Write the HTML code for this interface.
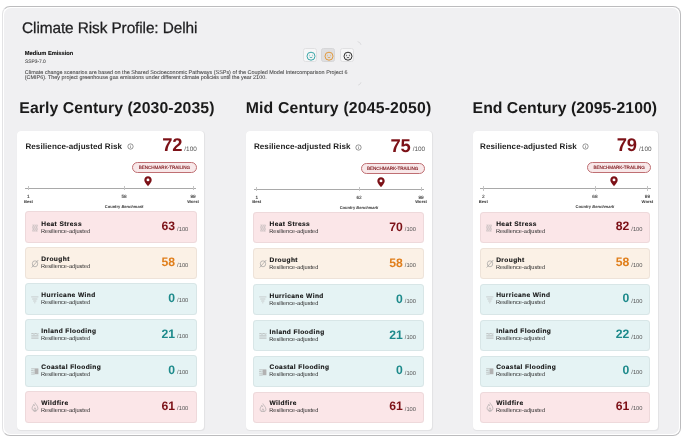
<!DOCTYPE html>
<html><head><meta charset="utf-8"><title>Climate Risk Profile: Delhi</title>
<style>
*{box-sizing:border-box;margin:0;padding:0}
html,body{width:688px;height:444px;overflow:hidden;background:#fff}
body{font-family:'Liberation Sans', Arial, Helvetica, sans-serif;color:#1d1d1f;position:relative;text-rendering:geometricPrecision}
.abs{position:absolute;white-space:nowrap}
.frame{position:absolute;left:2px;top:5.8px;width:679px;height:430.4px;border:1.2px solid #bcbcbe;border-left-color:#e3e3e5;border-radius:8px;background:#fff}
.inner{position:absolute;left:0.8px;top:0.8px;right:0.8px;bottom:0.8px;background:#f0f0f2;border-radius:7px}
.card{position:absolute;top:130.7px;height:299.3px;background:#fff;border-radius:4px;box-shadow:0.7px 0.8px 0.8px rgba(0,0,0,0.06)}
.row{position:absolute;left:8px;height:31.2px;border-radius:3.5px;border:0.7px solid}
.btn{position:absolute;top:48.2px;width:14px;height:14px;border-radius:2.5px;background:#f6f6f7;border:0.6px solid #e0e0e2}
</style></head><body>
<div class="frame"><div class="inner"></div></div>

<div class="abs" style="left:22.1px;top:20.0px;font-size:15.4px;line-height:18px;color:#1d1d1f;letter-spacing:-0.1px;-webkit-text-stroke:0.25px #1d1d1f">Climate Risk Profile: Delhi</div>
<div class="abs" style="left:24.7px;top:51.35px;font-size:5.72px;line-height:6px;font-weight:bold;color:#111;-webkit-text-stroke:0.12px #111">Medium Emission</div>
<div class="abs" style="left:24.9px;top:59.7px;font-size:4.9px;line-height:6px;color:#555;-webkit-text-stroke:0.1px #555">SSP3-7.0</div>
<div class="abs" style="left:24.8px;top:70.8px;font-size:5.44px;line-height:4.8px;color:#3d3d3d;-webkit-text-stroke:0.06px #3d3d3d">Climate change scenarios are based on the Shared Socioeconomic Pathways (SSPs) of the Coupled Model Intercomparison Project 6<br>(CMIP6). They project greenhouse gas emissions under different climate policies until the year 2100.</div>
<svg class="abs" style="left:355px;top:40px" width="8" height="47" viewBox="0 0 8 47"><path d="M2.6 1.6q2.6 0.4 3.4 3.2" stroke="#d6d6d8" stroke-width="0.8" fill="none"/><path d="M6 42.3q-0.6 2.4 -2.8 2.8" stroke="#d6d6d8" stroke-width="0.8" fill="none"/></svg>
<div class="btn" style="left:302.7px"><svg width="14" height="14" viewBox="0 0 14 14" style="position:absolute;left:0;top:0"><circle cx="7" cy="7.2" r="4" stroke="#3aa6a8" stroke-width="1" fill="none"/><path d="M4.9 6.7q0.6 -0.8 1.2 0M7.9 6.7q0.6 -0.8 1.2 0" stroke="#3aa6a8" stroke-width="0.6" fill="none"/><path d="M5.6 8.1q1.4 1.3 2.8 0" stroke="#3aa6a8" stroke-width="0.8" fill="none"/></svg></div>
<div class="btn" style="left:321.4px;background:#dfdfe1;border-color:#d6d6d8"><svg width="14" height="14" viewBox="0 0 14 14" style="position:absolute;left:0;top:0"><circle cx="7" cy="7.2" r="4" stroke="#e39a3c" stroke-width="1" fill="none"/><path d="M4.9 6.7q0.6 -0.8 1.2 0M7.9 6.7q0.6 -0.8 1.2 0" stroke="#e39a3c" stroke-width="0.6" fill="none"/><path d="M5.6 8.1q1.4 1.3 2.8 0" stroke="#e39a3c" stroke-width="0.8" fill="none"/></svg></div>
<div class="btn" style="left:340.4px"><svg width="14" height="14" viewBox="0 0 14 14" style="position:absolute;left:0;top:0"><circle cx="7" cy="7.2" r="4" stroke="#2e2e2e" stroke-width="1" fill="none"/><path d="M4.9 5.9l1.2 0.6l-1.2 0.5M9.1 5.9l-1.2 0.6l1.2 0.5" stroke="#2e2e2e" stroke-width="0.55" fill="none"/><path d="M5.7 9q1.3 -1.3 2.6 0" stroke="#2e2e2e" stroke-width="0.8" fill="none"/></svg></div>
<div class="abs head" style="left:19.3px;top:99.9px;font-size:15.8px;line-height:18px;font-weight:bold;color:#1a1a1a;width:200.6px;letter-spacing:0.08px">Early Century (2030-2035)</div>
<div class="card" style="left:17.3px;width:186.8px"><div class="abs" style="left:0.0px;top:0.0px;width:186.8px;height:299px">
<div class="abs" style="left:8.1px;top:10.9px;font-size:8.05px;line-height:9px;font-weight:bold;color:#1e1e1e;letter-spacing:0.08px">Resilience-adjusted Risk</div>
<svg class="abs" style="left:110.2px;top:12.4px" width="7" height="7" viewBox="0 0 7 7"><circle cx="3.5" cy="3.5" r="2.65" stroke="#6a6a6a" stroke-width="0.7" fill="none"/><path d="M3.5 3.1v1.9" stroke="#6a6a6a" stroke-width="0.6"/><circle cx="3.5" cy="2.2" r="0.35" fill="#6a6a6a"/></svg>
<div class="abs" style="right:21.90px;top:4.6px;font-size:18.4px;line-height:20px;font-weight:bold;color:#7c1117;letter-spacing:-0.2px">72</div>
<div class="abs" style="right:7.30px;top:15.0px;font-size:6.4px;line-height:7px;color:#555">/100</div>
<div class="abs" style="right:7.60px;top:31.5px;width:64.3px;height:10.8px;border-radius:6px;border:0.8px solid #bf6f73;background:#f8e8e9;color:#7c1117;font-size:4.6px;font-weight:normal;line-height:9.3px;text-align:center;letter-spacing:-0.04px;-webkit-text-stroke:0.12px #7c1117">BENCHMARK-TRAILING</div>
<div class="abs" style="left:7.8px;top:57.3px;width:171.3px;height:0.9px;background:#a9a9a9"></div>
<div class="abs" style="left:10.80px;top:55.6px;width:0.6px;height:4.2px;background:#c4c4c4"></div>
<div class="abs" style="left:106.54px;top:55.6px;width:0.6px;height:4.2px;background:#c4c4c4"></div>
<div class="abs" style="left:175.40px;top:55.6px;width:0.6px;height:4.2px;background:#c4c4c4"></div>
<svg class="abs" style="left:126.35px;top:45.6px" width="8" height="10.4" viewBox="0 0 8 10.4"><path d="M4 10.2C4 10.2 0.3 6.4 0.3 4C0.3 1.9 2 0.3 4 0.3C6 0.3 7.7 1.9 7.7 4C7.7 6.4 4 10.2 4 10.2Z" fill="#7c1117"/><circle cx="4" cy="3.9" r="1.45" fill="#fff"/></svg>
<div class="abs" style="left:11.10px;top:63.4px;width:20px;margin-left:-10px;text-align:center;font-size:4.7px;line-height:5px;color:#333;-webkit-text-stroke:0.1px #333">1</div>
<div class="abs" style="left:11.10px;top:68.1px;width:20px;margin-left:-10px;text-align:center;font-size:4.15px;line-height:5px;font-weight:bold;color:#333">Best</div>
<div class="abs" style="left:106.84px;top:63.4px;width:20px;margin-left:-10px;text-align:center;font-size:4.7px;line-height:5px;color:#333;-webkit-text-stroke:0.1px #333">58</div>
<div class="abs" style="left:175.70px;top:63.4px;width:20px;margin-left:-10px;text-align:center;font-size:4.7px;line-height:5px;color:#333;-webkit-text-stroke:0.1px #333">99</div>
<div class="abs" style="left:175.70px;top:68.1px;width:20px;margin-left:-10px;text-align:center;font-size:4.15px;line-height:5px;font-weight:bold;color:#333">Worst</div>
<div class="abs" style="left:106.84px;top:73.4px;width:60px;margin-left:-30px;text-align:center;font-size:4.05px;line-height:5px;font-weight:bold;color:#333">Country <i>Benchmark</i></div>
<div class="row" style="left:8.00px;top:80.8px;width:171.40px;background:#fbe6e8;border-color:rgba(60,40,40,0.065)">
<svg class="abs" style="left:5.30px;top:11.30px" width="6" height="8" viewBox="0 0 6 8"><path d="M1.1 0.6q0.4 0.9 0 1.8t0 1.8t0 1.8t0 1.6M3 0.6q0.4 0.9 0 1.8t0 1.8t0 1.8t0 1.6M4.9 0.6q0.4 0.9 0 1.8t0 1.8t0 1.8t0 1.6" stroke="#a2a2a2" stroke-width="0.7" fill="none"/></svg>
<div class="abs" style="left:15.0px;top:8.20px;font-size:6.6px;line-height:7px;font-weight:bold;color:#111;letter-spacing:0.4px;-webkit-text-stroke:0.12px #111">Heat Stress</div>
<div class="abs" style="left:14.7px;top:16.10px;font-size:5.65px;line-height:6px;color:#2b2b2b">Resilience-adjusted</div>
<div class="abs" style="right:20.70px;top:7.80px;font-size:12.2px;line-height:13px;font-weight:bold;color:#7c1117">63</div>
<div class="abs" style="right:7.40px;top:14.20px;font-size:5.75px;line-height:6px;color:#555">/100</div>
</div>
<div class="row" style="left:8.00px;top:116.8px;width:171.40px;background:#fbf1e6;border-color:rgba(60,50,40,0.065)">
<svg class="abs" style="left:4.40px;top:10.20px" width="8" height="9.2" viewBox="0 0 8 9.2"><ellipse cx="4" cy="4.8" rx="2.7" ry="3" stroke="#9a9a9a" stroke-width="0.65" fill="none"/><path d="M0.6 8.6L7.3 1" stroke="#9a9a9a" stroke-width="0.65"/></svg>
<div class="abs" style="left:15.0px;top:8.00px;font-size:6.6px;line-height:7px;font-weight:bold;color:#111;letter-spacing:0.4px;-webkit-text-stroke:0.12px #111">Drought</div>
<div class="abs" style="left:14.7px;top:15.90px;font-size:5.65px;line-height:6px;color:#2b2b2b">Resilience-adjusted</div>
<div class="abs" style="right:20.70px;top:7.70px;font-size:12.2px;line-height:13px;font-weight:bold;color:#e07f1c">58</div>
<div class="abs" style="right:7.40px;top:14.10px;font-size:5.75px;line-height:6px;color:#555">/100</div>
</div>
<div class="row" style="left:8.00px;top:152.8px;width:171.40px;background:#e5f3f4;border-color:rgba(40,60,60,0.065)">
<svg class="abs" style="left:4.80px;top:11.30px" width="8" height="8" viewBox="0 0 8 8"><path d="M0.2 0.9h7.2M1.2 3h5.2M2.2 5h3.2M3.3 6.8h1" stroke="#b4b4b4" stroke-width="0.6" fill="none"/></svg>
<div class="abs" style="left:15.0px;top:7.80px;font-size:6.6px;line-height:7px;font-weight:bold;color:#111;letter-spacing:0.4px;-webkit-text-stroke:0.12px #111">Hurricane Wind</div>
<div class="abs" style="left:14.7px;top:15.70px;font-size:5.65px;line-height:6px;color:#2b2b2b">Resilience-adjusted</div>
<div class="abs" style="right:20.70px;top:7.60px;font-size:12.2px;line-height:13px;font-weight:bold;color:#1d8a8b">0</div>
<div class="abs" style="right:7.40px;top:14.00px;font-size:5.75px;line-height:6px;color:#555">/100</div>
</div>
<div class="row" style="left:8.00px;top:188.8px;width:171.40px;background:#e5f3f4;border-color:rgba(40,60,60,0.065)">
<svg class="abs" style="left:4.80px;top:12.30px" width="8" height="6" viewBox="0 0 8 6"><path d="M0.3 0.8q0.9 -0.6 1.8 0t1.8 0t1.8 0t1.8 0M0.3 2.9h7.2M0.3 5.1h7.2" stroke="#a8a8a8" stroke-width="0.75" fill="none"/></svg>
<div class="abs" style="left:15.0px;top:7.60px;font-size:6.6px;line-height:7px;font-weight:bold;color:#111;letter-spacing:0.4px;-webkit-text-stroke:0.12px #111">Inland Flooding</div>
<div class="abs" style="left:14.7px;top:15.50px;font-size:5.65px;line-height:6px;color:#2b2b2b">Resilience-adjusted</div>
<div class="abs" style="right:20.70px;top:7.50px;font-size:12.2px;line-height:13px;font-weight:bold;color:#1d8a8b">21</div>
<div class="abs" style="right:7.40px;top:13.90px;font-size:5.75px;line-height:6px;color:#555">/100</div>
</div>
<div class="row" style="left:8.00px;top:224.8px;width:171.40px;background:#e5f3f4;border-color:rgba(40,60,60,0.065)">
<svg class="abs" style="left:4.80px;top:11.50px" width="8" height="7" viewBox="0 0 8 7"><rect x="3.6" y="0.4" width="3.8" height="5.8" fill="#b2b2b2"/><path d="M0.2 0.8h3.4M0.2 2.6q0.8 -0.6 1.6 0t1.6 0M0.2 4.4q0.8 -0.6 1.6 0t1.6 0M0.2 6.1h3.4" stroke="#a2a2a2" stroke-width="0.6" fill="none"/></svg>
<div class="abs" style="left:15.0px;top:7.40px;font-size:6.6px;line-height:7px;font-weight:bold;color:#111;letter-spacing:0.4px;-webkit-text-stroke:0.12px #111">Coastal Flooding</div>
<div class="abs" style="left:14.7px;top:15.30px;font-size:5.65px;line-height:6px;color:#2b2b2b">Resilience-adjusted</div>
<div class="abs" style="right:20.70px;top:7.40px;font-size:12.2px;line-height:13px;font-weight:bold;color:#1d8a8b">0</div>
<div class="abs" style="right:7.40px;top:13.80px;font-size:5.75px;line-height:6px;color:#555">/100</div>
</div>
<div class="row" style="left:8.00px;top:260.8px;width:171.40px;background:#fbe6e8;border-color:rgba(60,40,40,0.065)">
<svg class="abs" style="left:4.80px;top:9.60px" width="8" height="9.6" viewBox="0 0 8 9.6"><path d="M3.8 0.5C4.3 2.3 6.9 3.7 6.9 6.3C6.9 8 5.6 9.2 4 9.2C2.4 9.2 1.1 8 1.1 6.3C1.1 4.6 2.4 3.6 2.8 2.3C3.3 3.1 3.5 3.7 3.9 4.1" stroke="#a0a0a0" stroke-width="0.6" fill="none"/><path d="M4 9.1C3.1 9.1 2.7 8.3 2.9 7.5C3.1 6.8 3.7 6.4 3.9 5.7C4.5 6.5 5 7.1 5 7.9C5 8.6 4.6 9.1 4 9.1Z" stroke="#a0a0a0" stroke-width="0.6" fill="none"/></svg>
<div class="abs" style="left:15.0px;top:7.20px;font-size:6.6px;line-height:7px;font-weight:bold;color:#111;letter-spacing:0.4px;-webkit-text-stroke:0.12px #111">Wildfire</div>
<div class="abs" style="left:14.7px;top:15.10px;font-size:5.65px;line-height:6px;color:#2b2b2b">Resilience-adjusted</div>
<div class="abs" style="right:20.70px;top:7.30px;font-size:12.2px;line-height:13px;font-weight:bold;color:#7c1117">61</div>
<div class="abs" style="right:7.40px;top:13.70px;font-size:5.75px;line-height:6px;color:#555">/100</div>
</div>
</div></div>
<div class="abs head" style="left:245.7px;top:99.9px;font-size:15.8px;line-height:18px;font-weight:bold;color:#1a1a1a;width:191.3px;letter-spacing:0.17px">Mid Century (2045-2050)</div>
<div class="card" style="left:245.8px;width:186.0px"><div class="abs" style="left:0.0px;top:0.6px;width:186.0px;height:299px">
<div class="abs" style="left:8.1px;top:10.9px;font-size:8.05px;line-height:9px;font-weight:bold;color:#1e1e1e;letter-spacing:0.08px">Resilience-adjusted Risk</div>
<svg class="abs" style="left:109.6px;top:12.4px" width="7" height="7" viewBox="0 0 7 7"><circle cx="3.5" cy="3.5" r="2.65" stroke="#6a6a6a" stroke-width="0.7" fill="none"/><path d="M3.5 3.1v1.9" stroke="#6a6a6a" stroke-width="0.6"/><circle cx="3.5" cy="2.2" r="0.35" fill="#6a6a6a"/></svg>
<div class="abs" style="right:21.30px;top:4.6px;font-size:18.4px;line-height:20px;font-weight:bold;color:#7c1117;letter-spacing:-0.2px">75</div>
<div class="abs" style="right:6.70px;top:15.0px;font-size:6.4px;line-height:7px;color:#555">/100</div>
<div class="abs" style="right:7.00px;top:31.5px;width:64.3px;height:10.8px;border-radius:6px;border:0.8px solid #bf6f73;background:#f8e8e9;color:#7c1117;font-size:4.6px;font-weight:normal;line-height:9.3px;text-align:center;letter-spacing:-0.04px;-webkit-text-stroke:0.12px #7c1117">BENCHMARK-TRAILING</div>
<div class="abs" style="left:7.8px;top:57.3px;width:170.9px;height:0.9px;background:#a9a9a9"></div>
<div class="abs" style="left:10.60px;top:55.6px;width:0.6px;height:4.2px;background:#c4c4c4"></div>
<div class="abs" style="left:112.93px;top:55.6px;width:0.6px;height:4.2px;background:#c4c4c4"></div>
<div class="abs" style="left:175.00px;top:55.6px;width:0.6px;height:4.2px;background:#c4c4c4"></div>
<svg class="abs" style="left:131.04px;top:45.6px" width="8" height="10.4" viewBox="0 0 8 10.4"><path d="M4 10.2C4 10.2 0.3 6.4 0.3 4C0.3 1.9 2 0.3 4 0.3C6 0.3 7.7 1.9 7.7 4C7.7 6.4 4 10.2 4 10.2Z" fill="#7c1117"/><circle cx="4" cy="3.9" r="1.45" fill="#fff"/></svg>
<div class="abs" style="left:10.90px;top:63.4px;width:20px;margin-left:-10px;text-align:center;font-size:4.7px;line-height:5px;color:#333;-webkit-text-stroke:0.1px #333">1</div>
<div class="abs" style="left:10.90px;top:68.1px;width:20px;margin-left:-10px;text-align:center;font-size:4.15px;line-height:5px;font-weight:bold;color:#333">Best</div>
<div class="abs" style="left:113.23px;top:63.4px;width:20px;margin-left:-10px;text-align:center;font-size:4.7px;line-height:5px;color:#333;-webkit-text-stroke:0.1px #333">62</div>
<div class="abs" style="left:175.30px;top:63.4px;width:20px;margin-left:-10px;text-align:center;font-size:4.7px;line-height:5px;color:#333;-webkit-text-stroke:0.1px #333">99</div>
<div class="abs" style="left:175.30px;top:68.1px;width:20px;margin-left:-10px;text-align:center;font-size:4.15px;line-height:5px;font-weight:bold;color:#333">Worst</div>
<div class="abs" style="left:113.23px;top:73.4px;width:60px;margin-left:-30px;text-align:center;font-size:4.05px;line-height:5px;font-weight:bold;color:#333">Country <i>Benchmark</i></div>
<div class="row" style="left:7.70px;top:80.8px;width:170.90px;background:#fbe6e8;border-color:rgba(60,40,40,0.065)">
<svg class="abs" style="left:5.30px;top:11.30px" width="6" height="8" viewBox="0 0 6 8"><path d="M1.1 0.6q0.4 0.9 0 1.8t0 1.8t0 1.8t0 1.6M3 0.6q0.4 0.9 0 1.8t0 1.8t0 1.8t0 1.6M4.9 0.6q0.4 0.9 0 1.8t0 1.8t0 1.8t0 1.6" stroke="#a2a2a2" stroke-width="0.7" fill="none"/></svg>
<div class="abs" style="left:15.0px;top:8.20px;font-size:6.6px;line-height:7px;font-weight:bold;color:#111;letter-spacing:0.4px;-webkit-text-stroke:0.12px #111">Heat Stress</div>
<div class="abs" style="left:14.7px;top:16.10px;font-size:5.65px;line-height:6px;color:#2b2b2b">Resilience-adjusted</div>
<div class="abs" style="right:20.70px;top:7.80px;font-size:12.2px;line-height:13px;font-weight:bold;color:#7c1117">70</div>
<div class="abs" style="right:7.40px;top:14.20px;font-size:5.75px;line-height:6px;color:#555">/100</div>
</div>
<div class="row" style="left:7.70px;top:116.8px;width:170.90px;background:#fbf1e6;border-color:rgba(60,50,40,0.065)">
<svg class="abs" style="left:4.40px;top:10.20px" width="8" height="9.2" viewBox="0 0 8 9.2"><ellipse cx="4" cy="4.8" rx="2.7" ry="3" stroke="#9a9a9a" stroke-width="0.65" fill="none"/><path d="M0.6 8.6L7.3 1" stroke="#9a9a9a" stroke-width="0.65"/></svg>
<div class="abs" style="left:15.0px;top:8.00px;font-size:6.6px;line-height:7px;font-weight:bold;color:#111;letter-spacing:0.4px;-webkit-text-stroke:0.12px #111">Drought</div>
<div class="abs" style="left:14.7px;top:15.90px;font-size:5.65px;line-height:6px;color:#2b2b2b">Resilience-adjusted</div>
<div class="abs" style="right:20.70px;top:7.70px;font-size:12.2px;line-height:13px;font-weight:bold;color:#e07f1c">58</div>
<div class="abs" style="right:7.40px;top:14.10px;font-size:5.75px;line-height:6px;color:#555">/100</div>
</div>
<div class="row" style="left:7.70px;top:152.8px;width:170.90px;background:#e5f3f4;border-color:rgba(40,60,60,0.065)">
<svg class="abs" style="left:4.80px;top:11.30px" width="8" height="8" viewBox="0 0 8 8"><path d="M0.2 0.9h7.2M1.2 3h5.2M2.2 5h3.2M3.3 6.8h1" stroke="#b4b4b4" stroke-width="0.6" fill="none"/></svg>
<div class="abs" style="left:15.0px;top:7.80px;font-size:6.6px;line-height:7px;font-weight:bold;color:#111;letter-spacing:0.4px;-webkit-text-stroke:0.12px #111">Hurricane Wind</div>
<div class="abs" style="left:14.7px;top:15.70px;font-size:5.65px;line-height:6px;color:#2b2b2b">Resilience-adjusted</div>
<div class="abs" style="right:20.70px;top:7.60px;font-size:12.2px;line-height:13px;font-weight:bold;color:#1d8a8b">0</div>
<div class="abs" style="right:7.40px;top:14.00px;font-size:5.75px;line-height:6px;color:#555">/100</div>
</div>
<div class="row" style="left:7.70px;top:188.8px;width:170.90px;background:#e5f3f4;border-color:rgba(40,60,60,0.065)">
<svg class="abs" style="left:4.80px;top:12.30px" width="8" height="6" viewBox="0 0 8 6"><path d="M0.3 0.8q0.9 -0.6 1.8 0t1.8 0t1.8 0t1.8 0M0.3 2.9h7.2M0.3 5.1h7.2" stroke="#a8a8a8" stroke-width="0.75" fill="none"/></svg>
<div class="abs" style="left:15.0px;top:7.60px;font-size:6.6px;line-height:7px;font-weight:bold;color:#111;letter-spacing:0.4px;-webkit-text-stroke:0.12px #111">Inland Flooding</div>
<div class="abs" style="left:14.7px;top:15.50px;font-size:5.65px;line-height:6px;color:#2b2b2b">Resilience-adjusted</div>
<div class="abs" style="right:20.70px;top:7.50px;font-size:12.2px;line-height:13px;font-weight:bold;color:#1d8a8b">21</div>
<div class="abs" style="right:7.40px;top:13.90px;font-size:5.75px;line-height:6px;color:#555">/100</div>
</div>
<div class="row" style="left:7.70px;top:224.8px;width:170.90px;background:#e5f3f4;border-color:rgba(40,60,60,0.065)">
<svg class="abs" style="left:4.80px;top:11.50px" width="8" height="7" viewBox="0 0 8 7"><rect x="3.6" y="0.4" width="3.8" height="5.8" fill="#b2b2b2"/><path d="M0.2 0.8h3.4M0.2 2.6q0.8 -0.6 1.6 0t1.6 0M0.2 4.4q0.8 -0.6 1.6 0t1.6 0M0.2 6.1h3.4" stroke="#a2a2a2" stroke-width="0.6" fill="none"/></svg>
<div class="abs" style="left:15.0px;top:7.40px;font-size:6.6px;line-height:7px;font-weight:bold;color:#111;letter-spacing:0.4px;-webkit-text-stroke:0.12px #111">Coastal Flooding</div>
<div class="abs" style="left:14.7px;top:15.30px;font-size:5.65px;line-height:6px;color:#2b2b2b">Resilience-adjusted</div>
<div class="abs" style="right:20.70px;top:7.40px;font-size:12.2px;line-height:13px;font-weight:bold;color:#1d8a8b">0</div>
<div class="abs" style="right:7.40px;top:13.80px;font-size:5.75px;line-height:6px;color:#555">/100</div>
</div>
<div class="row" style="left:7.70px;top:260.8px;width:170.90px;background:#fbe6e8;border-color:rgba(60,40,40,0.065)">
<svg class="abs" style="left:4.80px;top:9.60px" width="8" height="9.6" viewBox="0 0 8 9.6"><path d="M3.8 0.5C4.3 2.3 6.9 3.7 6.9 6.3C6.9 8 5.6 9.2 4 9.2C2.4 9.2 1.1 8 1.1 6.3C1.1 4.6 2.4 3.6 2.8 2.3C3.3 3.1 3.5 3.7 3.9 4.1" stroke="#a0a0a0" stroke-width="0.6" fill="none"/><path d="M4 9.1C3.1 9.1 2.7 8.3 2.9 7.5C3.1 6.8 3.7 6.4 3.9 5.7C4.5 6.5 5 7.1 5 7.9C5 8.6 4.6 9.1 4 9.1Z" stroke="#a0a0a0" stroke-width="0.6" fill="none"/></svg>
<div class="abs" style="left:15.0px;top:7.20px;font-size:6.6px;line-height:7px;font-weight:bold;color:#111;letter-spacing:0.4px;-webkit-text-stroke:0.12px #111">Wildfire</div>
<div class="abs" style="left:14.7px;top:15.10px;font-size:5.65px;line-height:6px;color:#2b2b2b">Resilience-adjusted</div>
<div class="abs" style="right:20.70px;top:7.30px;font-size:12.2px;line-height:13px;font-weight:bold;color:#7c1117">61</div>
<div class="abs" style="right:7.40px;top:13.70px;font-size:5.75px;line-height:6px;color:#555">/100</div>
</div>
</div></div>
<div class="abs head" style="left:472.6px;top:99.9px;font-size:15.8px;line-height:18px;font-weight:bold;color:#1a1a1a;width:189.6px;letter-spacing:0.00px">End Century (2095-2100)</div>
<div class="card" style="left:472.5px;width:185.8px"><div class="abs" style="left:-0.5px;top:0.2px;width:185.8px;height:299px">
<div class="abs" style="left:8.1px;top:10.9px;font-size:8.05px;line-height:9px;font-weight:bold;color:#1e1e1e;letter-spacing:0.08px">Resilience-adjusted Risk</div>
<svg class="abs" style="left:110.2px;top:12.4px" width="7" height="7" viewBox="0 0 7 7"><circle cx="3.5" cy="3.5" r="2.65" stroke="#6a6a6a" stroke-width="0.7" fill="none"/><path d="M3.5 3.1v1.9" stroke="#6a6a6a" stroke-width="0.6"/><circle cx="3.5" cy="2.2" r="0.35" fill="#6a6a6a"/></svg>
<div class="abs" style="right:20.90px;top:4.6px;font-size:18.4px;line-height:20px;font-weight:bold;color:#7c1117;letter-spacing:-0.2px">79</div>
<div class="abs" style="right:6.30px;top:15.0px;font-size:6.4px;line-height:7px;color:#555">/100</div>
<div class="abs" style="right:6.60px;top:31.5px;width:64.3px;height:10.8px;border-radius:6px;border:0.8px solid #bf6f73;background:#f8e8e9;color:#7c1117;font-size:4.6px;font-weight:normal;line-height:9.3px;text-align:center;letter-spacing:-0.04px;-webkit-text-stroke:0.12px #7c1117">BENCHMARK-TRAILING</div>
<div class="abs" style="left:7.8px;top:57.3px;width:171.0px;height:0.9px;background:#a9a9a9"></div>
<div class="abs" style="left:11.00px;top:55.6px;width:0.6px;height:4.2px;background:#c4c4c4"></div>
<div class="abs" style="left:122.66px;top:55.6px;width:0.6px;height:4.2px;background:#c4c4c4"></div>
<div class="abs" style="left:175.10px;top:55.6px;width:0.6px;height:4.2px;background:#c4c4c4"></div>
<svg class="abs" style="left:137.56px;top:45.6px" width="8" height="10.4" viewBox="0 0 8 10.4"><path d="M4 10.2C4 10.2 0.3 6.4 0.3 4C0.3 1.9 2 0.3 4 0.3C6 0.3 7.7 1.9 7.7 4C7.7 6.4 4 10.2 4 10.2Z" fill="#7c1117"/><circle cx="4" cy="3.9" r="1.45" fill="#fff"/></svg>
<div class="abs" style="left:11.30px;top:63.4px;width:20px;margin-left:-10px;text-align:center;font-size:4.7px;line-height:5px;color:#333;-webkit-text-stroke:0.1px #333">2</div>
<div class="abs" style="left:11.30px;top:68.1px;width:20px;margin-left:-10px;text-align:center;font-size:4.15px;line-height:5px;font-weight:bold;color:#333">Best</div>
<div class="abs" style="left:122.96px;top:63.4px;width:20px;margin-left:-10px;text-align:center;font-size:4.7px;line-height:5px;color:#333;-webkit-text-stroke:0.1px #333">68</div>
<div class="abs" style="left:175.40px;top:63.4px;width:20px;margin-left:-10px;text-align:center;font-size:4.7px;line-height:5px;color:#333;-webkit-text-stroke:0.1px #333">99</div>
<div class="abs" style="left:175.40px;top:68.1px;width:20px;margin-left:-10px;text-align:center;font-size:4.15px;line-height:5px;font-weight:bold;color:#333">Worst</div>
<div class="abs" style="left:122.96px;top:73.4px;width:60px;margin-left:-30px;text-align:center;font-size:4.05px;line-height:5px;font-weight:bold;color:#333">Country <i>Benchmark</i></div>
<div class="row" style="left:8.20px;top:80.8px;width:170.10px;background:#fbe6e8;border-color:rgba(60,40,40,0.065)">
<svg class="abs" style="left:5.30px;top:11.30px" width="6" height="8" viewBox="0 0 6 8"><path d="M1.1 0.6q0.4 0.9 0 1.8t0 1.8t0 1.8t0 1.6M3 0.6q0.4 0.9 0 1.8t0 1.8t0 1.8t0 1.6M4.9 0.6q0.4 0.9 0 1.8t0 1.8t0 1.8t0 1.6" stroke="#a2a2a2" stroke-width="0.7" fill="none"/></svg>
<div class="abs" style="left:15.0px;top:8.20px;font-size:6.6px;line-height:7px;font-weight:bold;color:#111;letter-spacing:0.4px;-webkit-text-stroke:0.12px #111">Heat Stress</div>
<div class="abs" style="left:14.7px;top:16.10px;font-size:5.65px;line-height:6px;color:#2b2b2b">Resilience-adjusted</div>
<div class="abs" style="right:20.10px;top:7.80px;font-size:12.2px;line-height:13px;font-weight:bold;color:#7c1117">82</div>
<div class="abs" style="right:6.80px;top:14.20px;font-size:5.75px;line-height:6px;color:#555">/100</div>
</div>
<div class="row" style="left:8.20px;top:116.8px;width:170.10px;background:#fbf1e6;border-color:rgba(60,50,40,0.065)">
<svg class="abs" style="left:4.40px;top:10.20px" width="8" height="9.2" viewBox="0 0 8 9.2"><ellipse cx="4" cy="4.8" rx="2.7" ry="3" stroke="#9a9a9a" stroke-width="0.65" fill="none"/><path d="M0.6 8.6L7.3 1" stroke="#9a9a9a" stroke-width="0.65"/></svg>
<div class="abs" style="left:15.0px;top:8.00px;font-size:6.6px;line-height:7px;font-weight:bold;color:#111;letter-spacing:0.4px;-webkit-text-stroke:0.12px #111">Drought</div>
<div class="abs" style="left:14.7px;top:15.90px;font-size:5.65px;line-height:6px;color:#2b2b2b">Resilience-adjusted</div>
<div class="abs" style="right:20.10px;top:7.70px;font-size:12.2px;line-height:13px;font-weight:bold;color:#e07f1c">58</div>
<div class="abs" style="right:6.80px;top:14.10px;font-size:5.75px;line-height:6px;color:#555">/100</div>
</div>
<div class="row" style="left:8.20px;top:152.8px;width:170.10px;background:#e5f3f4;border-color:rgba(40,60,60,0.065)">
<svg class="abs" style="left:4.80px;top:11.30px" width="8" height="8" viewBox="0 0 8 8"><path d="M0.2 0.9h7.2M1.2 3h5.2M2.2 5h3.2M3.3 6.8h1" stroke="#b4b4b4" stroke-width="0.6" fill="none"/></svg>
<div class="abs" style="left:15.0px;top:7.80px;font-size:6.6px;line-height:7px;font-weight:bold;color:#111;letter-spacing:0.4px;-webkit-text-stroke:0.12px #111">Hurricane Wind</div>
<div class="abs" style="left:14.7px;top:15.70px;font-size:5.65px;line-height:6px;color:#2b2b2b">Resilience-adjusted</div>
<div class="abs" style="right:20.10px;top:7.60px;font-size:12.2px;line-height:13px;font-weight:bold;color:#1d8a8b">0</div>
<div class="abs" style="right:6.80px;top:14.00px;font-size:5.75px;line-height:6px;color:#555">/100</div>
</div>
<div class="row" style="left:8.20px;top:188.8px;width:170.10px;background:#e5f3f4;border-color:rgba(40,60,60,0.065)">
<svg class="abs" style="left:4.80px;top:12.30px" width="8" height="6" viewBox="0 0 8 6"><path d="M0.3 0.8q0.9 -0.6 1.8 0t1.8 0t1.8 0t1.8 0M0.3 2.9h7.2M0.3 5.1h7.2" stroke="#a8a8a8" stroke-width="0.75" fill="none"/></svg>
<div class="abs" style="left:15.0px;top:7.60px;font-size:6.6px;line-height:7px;font-weight:bold;color:#111;letter-spacing:0.4px;-webkit-text-stroke:0.12px #111">Inland Flooding</div>
<div class="abs" style="left:14.7px;top:15.50px;font-size:5.65px;line-height:6px;color:#2b2b2b">Resilience-adjusted</div>
<div class="abs" style="right:20.10px;top:7.50px;font-size:12.2px;line-height:13px;font-weight:bold;color:#1d8a8b">22</div>
<div class="abs" style="right:6.80px;top:13.90px;font-size:5.75px;line-height:6px;color:#555">/100</div>
</div>
<div class="row" style="left:8.20px;top:224.8px;width:170.10px;background:#e5f3f4;border-color:rgba(40,60,60,0.065)">
<svg class="abs" style="left:4.80px;top:11.50px" width="8" height="7" viewBox="0 0 8 7"><rect x="3.6" y="0.4" width="3.8" height="5.8" fill="#b2b2b2"/><path d="M0.2 0.8h3.4M0.2 2.6q0.8 -0.6 1.6 0t1.6 0M0.2 4.4q0.8 -0.6 1.6 0t1.6 0M0.2 6.1h3.4" stroke="#a2a2a2" stroke-width="0.6" fill="none"/></svg>
<div class="abs" style="left:15.0px;top:7.40px;font-size:6.6px;line-height:7px;font-weight:bold;color:#111;letter-spacing:0.4px;-webkit-text-stroke:0.12px #111">Coastal Flooding</div>
<div class="abs" style="left:14.7px;top:15.30px;font-size:5.65px;line-height:6px;color:#2b2b2b">Resilience-adjusted</div>
<div class="abs" style="right:20.10px;top:7.40px;font-size:12.2px;line-height:13px;font-weight:bold;color:#1d8a8b">0</div>
<div class="abs" style="right:6.80px;top:13.80px;font-size:5.75px;line-height:6px;color:#555">/100</div>
</div>
<div class="row" style="left:8.20px;top:260.8px;width:170.10px;background:#fbe6e8;border-color:rgba(60,40,40,0.065)">
<svg class="abs" style="left:4.80px;top:9.60px" width="8" height="9.6" viewBox="0 0 8 9.6"><path d="M3.8 0.5C4.3 2.3 6.9 3.7 6.9 6.3C6.9 8 5.6 9.2 4 9.2C2.4 9.2 1.1 8 1.1 6.3C1.1 4.6 2.4 3.6 2.8 2.3C3.3 3.1 3.5 3.7 3.9 4.1" stroke="#a0a0a0" stroke-width="0.6" fill="none"/><path d="M4 9.1C3.1 9.1 2.7 8.3 2.9 7.5C3.1 6.8 3.7 6.4 3.9 5.7C4.5 6.5 5 7.1 5 7.9C5 8.6 4.6 9.1 4 9.1Z" stroke="#a0a0a0" stroke-width="0.6" fill="none"/></svg>
<div class="abs" style="left:15.0px;top:7.20px;font-size:6.6px;line-height:7px;font-weight:bold;color:#111;letter-spacing:0.4px;-webkit-text-stroke:0.12px #111">Wildfire</div>
<div class="abs" style="left:14.7px;top:15.10px;font-size:5.65px;line-height:6px;color:#2b2b2b">Resilience-adjusted</div>
<div class="abs" style="right:20.10px;top:7.30px;font-size:12.2px;line-height:13px;font-weight:bold;color:#7c1117">61</div>
<div class="abs" style="right:6.80px;top:13.70px;font-size:5.75px;line-height:6px;color:#555">/100</div>
</div>
</div></div>
</body></html>
